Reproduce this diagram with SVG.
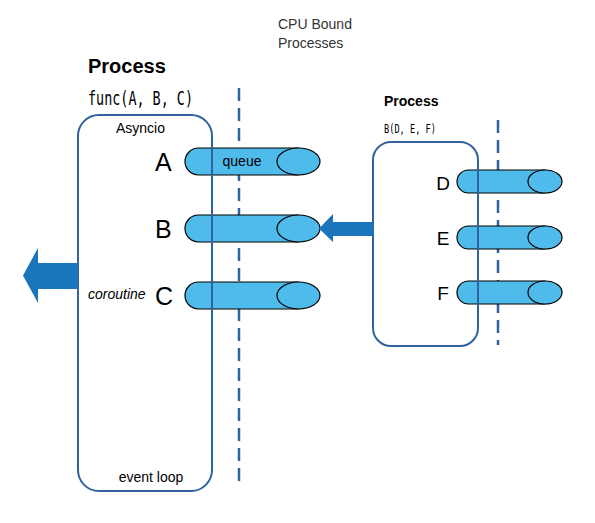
<svg xmlns="http://www.w3.org/2000/svg" width="595" height="523" viewBox="0 0 595 523">
<style>
.box{fill:none;stroke:#2e62a0;stroke-width:2}
.dash{stroke:#2e62a0;stroke-width:2.5;stroke-dasharray:13 7;fill:none}
.cyl{fill:#4fbbeb;stroke:#000;stroke-width:1.2}
.t{font-family:"Liberation Sans",Arial,sans-serif;fill:#000}
.b{font-weight:bold}
.m{font-family:"DejaVu Sans Mono","Liberation Mono",monospace;fill:#000}
.arr{fill:#1b75bb}
</style>
<rect width="595" height="523" fill="#fff"/>
<text class="t" x="278" y="29" font-size="14" style="fill:#333">CPU Bound</text>
<text class="t" x="278" y="48" font-size="14" style="fill:#333">Processes</text>

<g id="process-left">
  <text class="t b" x="88" y="73" font-size="20">Process</text>
  <text class="m" x="88" y="105" font-size="19" textLength="105" lengthAdjust="spacingAndGlyphs">func(A, B, C)</text>
  <rect x="78" y="115" width="134" height="376" rx="21" ry="21" fill="#fff"/>
  <text class="t" x="140.5" y="133" font-size="14" text-anchor="middle">Asyncio</text>
  <text class="t" x="151" y="482" font-size="14" text-anchor="middle">event loop</text>
  <text class="t" x="155" y="171" font-size="25">A</text>
  <text class="t" x="155" y="238" font-size="25">B</text>
  <text class="t" x="155" y="305" font-size="25">C</text>
  <text class="t" x="88" y="299" font-size="14" font-style="italic">coroutine</text>
</g>

<g id="process-right">
  <text class="t b" x="384" y="106" font-size="14">Process</text>
  <text class="m" x="384" y="133" font-size="12" textLength="52" lengthAdjust="spacingAndGlyphs">B(D, E, F)</text>
  <rect x="373" y="142" width="105" height="204" rx="18" ry="18" fill="#fff"/>
  <text class="t" x="443" y="189.5" font-size="19" text-anchor="middle">D</text>
  <text class="t" x="443" y="245" font-size="19" text-anchor="middle">E</text>
  <text class="t" x="443" y="300" font-size="19" text-anchor="middle">F</text>
</g>

<g id="dividers">
  <line class="dash" x1="239" y1="88" x2="239" y2="488"/>
  <line class="dash" x1="498" y1="120" x2="498" y2="345"/>
</g>

<g id="queue-A">
  <path class="cyl" d="M298.5 148 H198.5 A13.5 13.5 0 0 0 198.5 175 H298.5 Z"/>
  <ellipse class="cyl" cx="298.5" cy="161.5" rx="21.5" ry="13.5"/>
</g>
<g id="queue-B">
  <path class="cyl" d="M298.5 215 H198.5 A13.5 13.5 0 0 0 198.5 242 H298.5 Z"/>
  <ellipse class="cyl" cx="298.5" cy="228.5" rx="21.5" ry="13.5"/>
</g>
<g id="queue-C">
  <path class="cyl" d="M298.5 282 H198.5 A13.5 13.5 0 0 0 198.5 309 H298.5 Z"/>
  <ellipse class="cyl" cx="298.5" cy="295.5" rx="21.5" ry="13.5"/>
</g>
<g id="queue-D">
  <path class="cyl" d="M545 170 H468.5 A11.5 11.5 0 0 0 468.5 193 H545 Z"/>
  <ellipse class="cyl" cx="545" cy="181.5" rx="17" ry="11.5"/>
</g>
<g id="queue-E">
  <path class="cyl" d="M545 226 H468.5 A11.5 11.5 0 0 0 468.5 249 H545 Z"/>
  <ellipse class="cyl" cx="545" cy="237.5" rx="17" ry="11.5"/>
</g>
<g id="queue-F">
  <path class="cyl" d="M545 281 H468.5 A11.5 11.5 0 0 0 468.5 304 H545 Z"/>
  <ellipse class="cyl" cx="545" cy="292.5" rx="17" ry="11.5"/>
</g>

<g id="outlines">
  <rect class="box" x="78" y="115" width="134" height="376" rx="21" ry="21"/>
  <rect class="box" x="373" y="142" width="105" height="204" rx="18" ry="18"/>
  <text class="t" x="242" y="166" font-size="14" text-anchor="middle">queue</text>
</g>

<g id="connectors">
  <path class="arr" d="M78 263 H38 V248 L23 275.5 L38 303 V289 H78 Z"/>
  <path class="arr" d="M373 222 H333 V214 L319 228.5 L333 242 V236 H373 Z"/>
</g>
</svg>
